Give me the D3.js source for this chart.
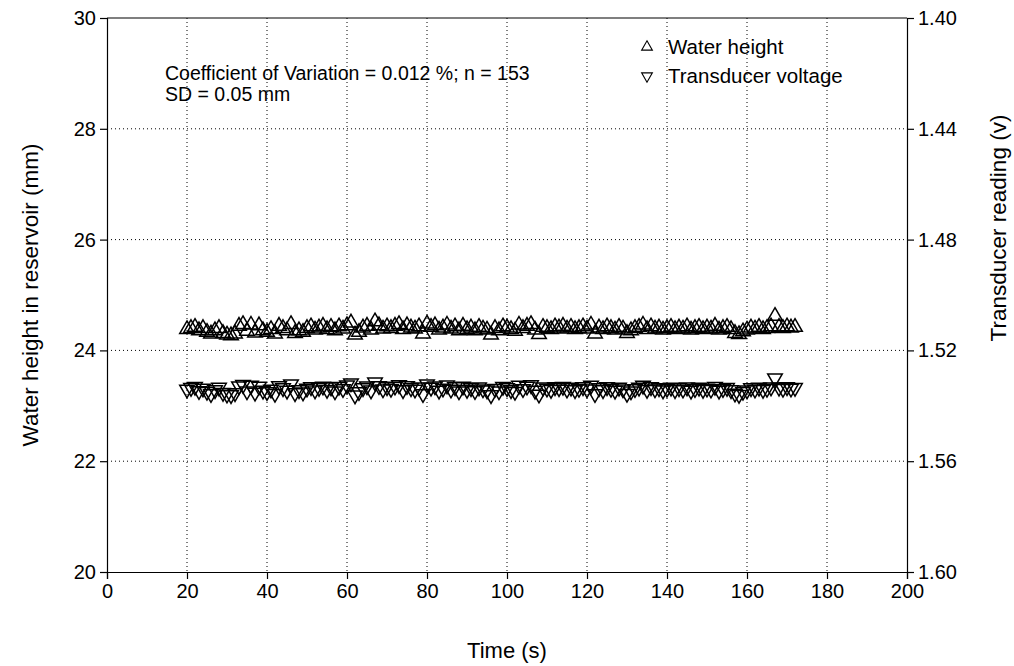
<!DOCTYPE html>
<html>
<head>
<meta charset="utf-8">
<script src="https://cdn.jsdelivr.net/npm/d3@7"></script>
<style>
body{margin:0;background:#fff;}
text{font-family:"Liberation Sans",Arial,sans-serif;fill:#000;}
</style>
</head>
<body>
<svg id="canvas" width="1014" height="666"></svg>
<script>
// time in seconds, one reading per second
let startTime=20
let heights=[
24.38,24.40,24.42,24.36,24.40,24.33,24.30,24.36,24.40,24.31,
24.28,24.27,24.30,24.44,24.47,24.35,24.46,24.32,24.45,24.36,
24.33,24.38,24.30,24.44,24.40,24.36,24.47,24.31,24.36,24.33,
24.40,24.43,24.37,24.41,24.44,24.38,24.42,24.36,24.43,24.39,
24.45,24.50,24.28,24.33,24.41,24.44,24.37,24.52,24.45,24.39,
24.43,24.40,24.44,24.47,24.38,24.45,24.41,24.39,24.43,24.30,
24.48,24.42,24.45,24.37,24.41,24.46,24.39,24.43,24.36,24.44,
24.38,24.41,24.36,24.42,24.39,24.37,24.28,24.40,24.36,24.43,
24.41,24.38,24.35,24.46,24.40,24.44,24.47,24.37,24.29,24.42,
24.40,24.38,24.43,24.41,24.44,24.39,24.42,24.38,24.40,24.43,
24.39,24.46,24.30,24.41,24.38,24.43,24.40,24.37,24.42,24.39,
24.31,24.36,24.40,24.42,24.46,24.38,24.43,24.39,24.41,24.37,
24.40,24.42,24.38,24.41,24.39,24.43,24.37,24.40,24.42,24.38,
24.41,24.39,24.44,24.37,24.40,24.42,24.38,24.31,24.29,24.34,
24.37,24.41,24.39,24.42,24.38,24.40,24.43,24.62,24.42,24.40,
24.43,24.41,24.42]
let voltages=[
1.5341,1.5335,1.5331,1.5346,1.5337,1.5349,1.5357,1.5343,1.5334,1.5353,
1.5359,1.5361,1.5354,1.5329,1.5324,1.5347,1.5327,1.5352,1.5330,1.5345,
1.5350,1.5341,1.5356,1.5328,1.5336,1.5345,1.5322,1.5354,1.5343,1.5351,
1.5337,1.5332,1.5344,1.5335,1.5330,1.5342,1.5333,1.5347,1.5331,1.5339,
1.5326,1.5318,1.5362,1.5350,1.5336,1.5329,1.5344,1.5315,1.5328,1.5340,
1.5332,1.5338,1.5330,1.5325,1.5343,1.5328,1.5336,1.5341,1.5333,1.5357,
1.5322,1.5334,1.5329,1.5345,1.5337,1.5326,1.5341,1.5332,1.5347,1.5330,
1.5342,1.5336,1.5346,1.5333,1.5340,1.5344,1.5361,1.5338,1.5347,1.5331,
1.5336,1.5343,1.5349,1.5327,1.5339,1.5330,1.5325,1.5345,1.5359,1.5333,
1.5337,1.5342,1.5332,1.5336,1.5331,1.5341,1.5334,1.5343,1.5338,1.5332,
1.5340,1.5327,1.5357,1.5336,1.5343,1.5332,1.5338,1.5345,1.5334,1.5340,
1.5356,1.5347,1.5339,1.5334,1.5327,1.5342,1.5332,1.5340,1.5336,1.5344,
1.5338,1.5334,1.5343,1.5336,1.5341,1.5333,1.5345,1.5339,1.5334,1.5342,
1.5337,1.5341,1.5331,1.5345,1.5339,1.5335,1.5343,1.5355,1.5360,1.5349,
1.5344,1.5336,1.5341,1.5334,1.5342,1.5338,1.5333,1.5300,1.5334,1.5338,
1.5332,1.5337,1.5335]
let xTicks=[0,20,40,60,80,100,120,140,160,180,200]
let leftTicks=[20,22,24,26,28,30]
let rightTicks=[1.40,1.44,1.48,1.52,1.56,1.60]
let seriesNames=['Water height','Transducer voltage']
let noteLines=['Coefficient of Variation = 0.012 %; n = 153','SD = 0.05 mm']

let plotLeft=107,plotRight=907,plotTop=18,plotBottom=572

let svg=d3.select('#canvas')
let x=d3.scaleLinear().domain([0,200]).range([plotLeft,plotRight])
let yL=d3.scaleLinear().domain([20,30]).range([plotBottom,plotTop])
let yR=d3.scaleLinear().domain([1.40,1.60]).range([plotTop,plotBottom])

// dotted grid
svg.append('g').selectAll('line')
  .data(xTicks.slice(1,-1))
  .enter().append('line')
  .attr('x1',d=>x(d)).attr('x2',d=>x(d))
  .attr('y1',plotTop).attr('y2',plotBottom)
  .attr('stroke','#000').attr('stroke-width',1).attr('stroke-dasharray','1,3')
svg.append('g').selectAll('line')
  .data(leftTicks.slice(1,-1))
  .enter().append('line')
  .attr('x1',plotLeft).attr('x2',plotRight)
  .attr('y1',d=>yL(d)).attr('y2',d=>yL(d))
  .attr('stroke','#000').attr('stroke-width',1).attr('stroke-dasharray','1,3')

// axes
let fontSize='20px'
let xAxis=svg.append('g').attr('transform','translate(0,'+plotBottom+')')
  .call(d3.axisBottom(x).tickValues(xTicks).tickSize(7).tickPadding(5).tickFormat(d3.format('d')))
let lAxis=svg.append('g').attr('transform','translate('+plotLeft+',0)')
  .call(d3.axisLeft(yL).tickValues(leftTicks).tickSize(7).tickPadding(4).tickFormat(d3.format('d')))
let rAxis=svg.append('g').attr('transform','translate('+plotRight+',0)')
  .call(d3.axisRight(yR).tickValues(rightTicks).tickSize(7).tickPadding(4).tickFormat(d3.format('.2f')))
;[xAxis,lAxis,rAxis].forEach(a=>{
  a.selectAll('text').style('font-size',fontSize).style('font-family','"Liberation Sans",Arial,sans-serif')
  a.select('.domain').attr('stroke','#000').attr('stroke-width',1.2)
  a.selectAll('.tick line').attr('stroke','#000').attr('stroke-width',1.2)
})
svg.append('line').attr('x1',plotLeft).attr('x2',plotRight).attr('y1',plotTop).attr('y2',plotTop)
  .attr('stroke','#000').attr('stroke-width',1.2)

// markers
let tri=d3.symbol().type(d3.symbolTriangle).size(92)
let pts=heights.map((h,i)=>({t:startTime+i,h:h,v:voltages[i]}))
svg.append('g').selectAll('path')
  .data(pts).enter().append('path')
  .attr('d',tri)
  .attr('transform',d=>'translate('+x(d.t)+','+yL(d.h)+')')
  .attr('fill','none').attr('stroke','#000').attr('stroke-width',1.5)
svg.append('g').selectAll('path')
  .data(pts).enter().append('path')
  .attr('d',tri)
  .attr('transform',d=>'translate('+x(d.t)+','+yR(d.v)+') rotate(180)')
  .attr('fill','none').attr('stroke','#000').attr('stroke-width',1.5)

// note text
svg.append('g').selectAll('text')
  .data(noteLines).enter().append('text')
  .attr('x',165).attr('y',(d,i)=>80+i*21)
  .style('font-size','19.5px')
  .text(d=>d)

// legend
let lg=svg.append('g').selectAll('g')
  .data(seriesNames).enter().append('g')
  .attr('transform',(d,i)=>'translate(647,'+(47+i*29)+')')
lg.append('path')
  .attr('d',d3.symbol().type(d3.symbolTriangle).size(50))
  .attr('transform',(d,i)=>i==1?'rotate(180)':'')
  .attr('fill','none').attr('stroke','#000').attr('stroke-width',1.1)
lg.append('text').attr('x',21).attr('y',7).style('font-size','20.5px').text(d=>d)

// axis titles
svg.append('text').attr('x',507).attr('y',658).attr('text-anchor','middle')
  .style('font-size','22px').text('Time (s)')
svg.append('text').attr('transform','translate(38,295) rotate(-90)').attr('text-anchor','middle')
  .style('font-size','22.5px').text('Water height in reservoir (mm)')
svg.append('text').attr('transform','translate(1006,228) rotate(-90)').attr('text-anchor','middle')
  .style('font-size','22.5px').text('Transducer reading (v)')
</script>
</body>
</html>
